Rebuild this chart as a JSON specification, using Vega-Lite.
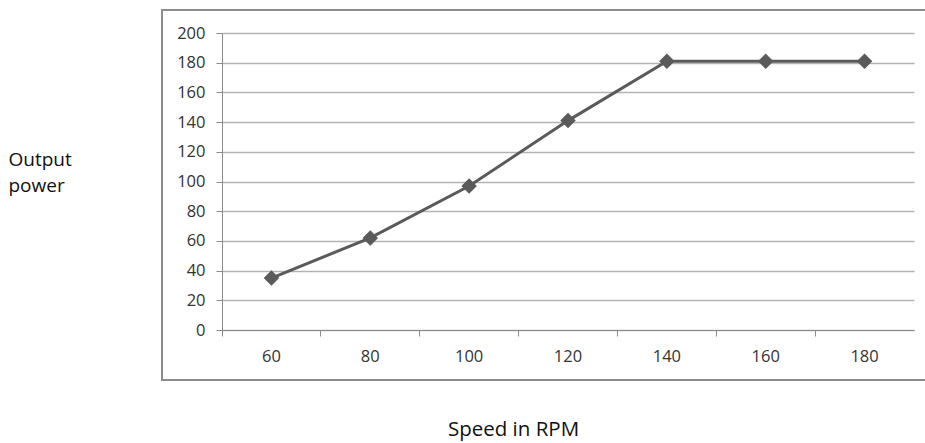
{
  "$schema": "https://vega.github.io/schema/vega-lite/v6.json",
  "autosize": "none",
  "width": 692,
  "height": 297,
  "padding": {"left": 222, "top": 33, "right": 11, "bottom": 113},
  "background": "white",
  "config": {
    "view": {"stroke": null},
    "font": "Open Sans",
    "axis": {"labelOverlap": false, "labelBound": false}
  },
  "data": {
    "values": [
      {"speed": "60", "power": 35},
      {"speed": "80", "power": 62},
      {"speed": "100", "power": 97},
      {"speed": "120", "power": 141},
      {"speed": "140", "power": 181},
      {"speed": "160", "power": 181},
      {"speed": "180", "power": 181}
    ]
  },
  "layer": [
    {
      "mark": {"type": "rect", "fill": null, "stroke": "#8c8c8c", "strokeWidth": 2, "clip": false},
      "data": {"values": [{"frame": 1}]},
      "encoding": {
        "x": {"value": -60},
        "x2": {"value": 720},
        "y": {"value": -23},
        "y2": {"value": 347}
      }
    },
    {
      "encoding": {
        "x": {
          "field": "speed",
          "type": "ordinal",
          "sort": null,
          "scale": {"type": "band", "paddingInner": 0, "paddingOuter": 0},
          "axis": {
            "bandPosition": 0,
            "labelAngle": 0,
            "labelFontSize": 16.5,
            "labelColor": "#333333",
            "labelPadding": 12,
            "labelBaseline": "top",
            "labelOverlap": false,
            "tickSize": 6,
            "tickColor": "#8c8c8c",
            "domainColor": "#8c8c8c",
            "grid": false,
            "title": "Speed in RPM",
            "titleFontSize": 20.5,
            "titleFontWeight": "normal",
            "titleColor": "#111111",
            "titleX": 291,
            "titleY": 105,
            "titleAnchor": "middle",
            "titleAlign": "center",
            "titleBaseline": "alphabetic"
          }
        },
        "y": {
          "field": "power",
          "type": "quantitative",
          "scale": {"domain": [0, 200], "nice": false, "zero": true},
          "axis": {
            "values": [0, 20, 40, 60, 80, 100, 120, 140, 160, 180, 200],
            "labelOverlap": false,
            "labelFontSize": 16.5,
            "labelColor": "#333333",
            "labelPadding": 11,
            "tickSize": 6,
            "tickColor": "#8c8c8c",
            "domainColor": "#8c8c8c",
            "gridColor": "#b3b3b3",
            "gridWidth": 1.5,
            "title": ["Output", "power"],
            "titleFontSize": 19,
            "titleFontWeight": "normal",
            "titleColor": "#111111",
            "titleAngle": 0,
            "titleAlign": "left",
            "titleBaseline": "alphabetic",
            "titleLineHeight": 26,
            "titleX": -214,
            "titleY": 132
          }
        }
      },
      "layer": [
        {"mark": {"type": "line", "color": "#5a5a5a", "strokeWidth": 3}},
        {"mark": {"type": "point", "shape": "diamond", "filled": true, "color": "#5a5a5a", "size": 240, "opacity": 1}}
      ]
    }
  ]
}
